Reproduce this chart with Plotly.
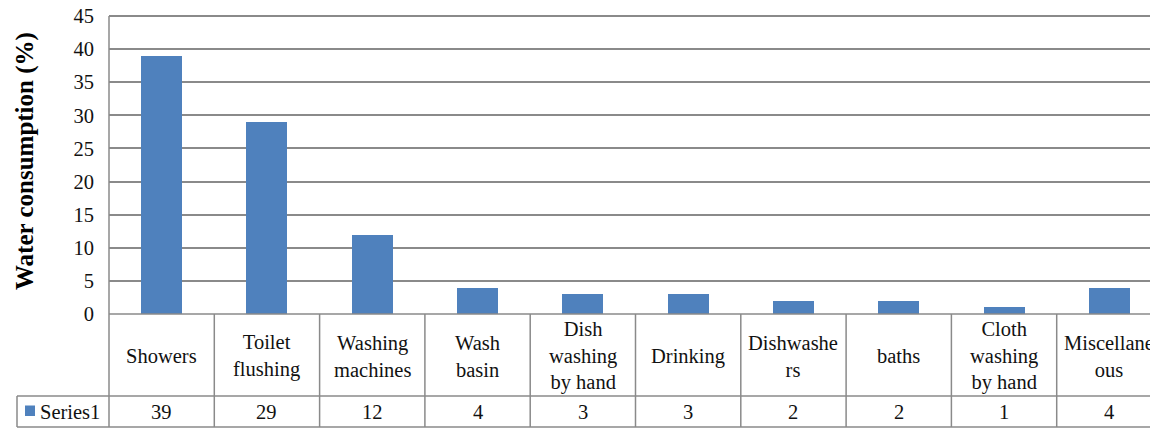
import plotly.graph_objects as go

# ---- data ----
categories = ["Showers", "Toilet flushing", "Washing machines", "Wash basin",
              "Dish washing by hand", "Drinking", "Dishwashers", "baths",
              "Cloth washing by hand", "Miscellaneous"]
tick_labels = ["Showers", "Toilet<br>flushing", "Washing<br>machines", "Wash<br>basin",
               "Dish<br>washing<br>by hand", "Drinking", "Dishwashe<br>rs", "baths",
               "Cloth<br>washing<br>by hand", "Miscellane<br>ous"]
series_name = "Series1"
values = [39, 29, 12, 4, 3, 3, 2, 2, 1, 4]
y_ticks = [0, 5, 10, 15, 20, 25, 30, 35, 40, 45]

# ---- layout constants (screen pixels; page body has an 8px margin) ----
OFF = 8
SW, SH = 1158, 428
W, H = SW - OFF, SH - OFF
PL, PR, PB = 109, 1158, 314           # plot area on screen
P45 = 16                               # screen y of the top gridline (45)
EXTRA = 3                              # px of headroom so the top gridline is drawn
PT = P45 - EXTRA
CAT_W = 105.3                          # category width in px
ROW1_B, ROW2_B = 396, 427              # table row bottoms
TBL_L = 17
BLUE = "#4F81BD"
GRID = "#8a8a8a"
FONT = "Liberation Serif"
FS = 20.5
Y_TOP = y_ticks[-1]
Y_MAX = Y_TOP + EXTRA * Y_TOP / (PB - P45)

x_idx = list(range(len(values)))
x0 = -0.5
x1 = x0 + (PR - PL) / CAT_W


def px(v):
    return PL + (v - x0) * CAT_W


def xp(p):
    return (p - OFF) / W


def yp(p):
    return 1 - (p - OFF) / H


fig = go.Figure()
fig.add_trace(go.Bar(x=x_idx, y=values, width=0.39, marker=dict(color=BLUE, line=dict(width=0)),
                     name=series_name, showlegend=False))

shapes = []
line = dict(color=GRID, width=1.5)
shapes.append(dict(type="line", xref="paper", yref="paper", x0=xp(PL), x1=1, y0=yp(PB), y1=yp(PB), line=line))
for yy in (ROW1_B, ROW2_B):
    shapes.append(dict(type="line", xref="paper", yref="paper", x0=xp(TBL_L), x1=1, y0=yp(yy), y1=yp(yy), line=line))
shapes.append(dict(type="line", xref="paper", yref="paper", x0=xp(TBL_L), x1=xp(TBL_L), y0=yp(ROW1_B), y1=yp(ROW2_B), line=line))
shapes.append(dict(type="line", xref="paper", yref="paper", x0=xp(PL), x1=xp(PL), y0=yp(P45), y1=yp(ROW2_B), line=line))
for i in x_idx[:-1]:
    bx = px(i + 0.5)
    shapes.append(dict(type="line", xref="paper", yref="paper", x0=xp(bx), x1=xp(bx), y0=yp(PB), y1=yp(ROW2_B), line=line))
shapes.append(dict(type="rect", xref="paper", yref="paper", x0=xp(25), x1=xp(35), y0=yp(405.5), y1=yp(416),
                   fillcolor=BLUE, line=dict(width=0)))

annotations = []
for i, (lab, v) in enumerate(zip(tick_labels, values)):
    cx = xp(px(i))
    annotations.append(dict(x=cx, y=yp((PB + ROW1_B) / 2 + 1), xref="paper", yref="paper", text=lab,
                            showarrow=False, xanchor="center", yanchor="middle",
                            font=dict(family=FONT, size=FS, color="#111")))
    annotations.append(dict(x=cx, y=yp((ROW1_B + ROW2_B) / 2 + 0.5), xref="paper", yref="paper", text=str(v),
                            showarrow=False, xanchor="center", yanchor="middle",
                            font=dict(family=FONT, size=FS, color="#111")))
annotations.append(dict(x=xp(38), y=yp((ROW1_B + ROW2_B) / 2 + 0.5), xref="paper", yref="paper", text=series_name,
                        showarrow=False, xanchor="left", yanchor="middle",
                        font=dict(family=FONT, size=FS, color="#111")))
annotations.append(dict(x=xp(25), y=yp(161), xref="paper", yref="paper", text="<b>Water consumption (%)</b>",
                        showarrow=False, textangle=-90, xanchor="center", yanchor="middle",
                        font=dict(family=FONT, size=25, color="#000")))

fig.update_layout(
    template="none",
    font=dict(family=FONT, color="#111"),
    width=W, height=H, margin=dict(l=0, r=0, t=0, b=0, pad=0), autosize=False,
    paper_bgcolor="white", plot_bgcolor="white",
    xaxis=dict(domain=[xp(PL), 1], range=[x0, x1], showticklabels=False, showgrid=False,
               zeroline=False, showline=False, ticks="", automargin=False),
    yaxis=dict(domain=[yp(PB), yp(PT)], range=[0, Y_MAX], tickvals=y_ticks, showgrid=True,
               gridcolor=GRID, gridwidth=1.5, zeroline=False, showline=False, ticks="",
               automargin=False, ticklabeloverflow="allow",
               ticklabelstandoff=14, tickfont=dict(family=FONT, size=FS, color="#111")),
    shapes=shapes, annotations=annotations, bargap=0,
)

fig.write_html("out.html")
